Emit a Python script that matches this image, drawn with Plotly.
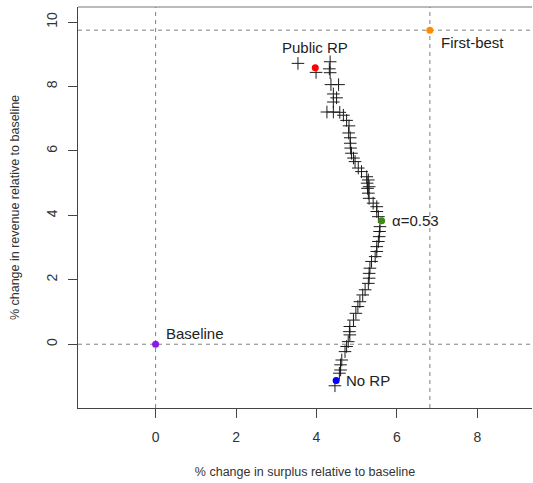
import plotly.graph_objects as go

# Frontier points (surplus %, revenue %)
surplus = [3.54, 4.34, 3.99, 4.32, 4.34, 4.36, 4.55, 4.42, 4.50, 4.42,
           4.26, 4.42, 4.58, 4.67, 4.75, 4.81, 4.80, 4.84, 4.84, 4.85,
           4.87, 4.92, 4.96, 5.04, 5.12, 5.25, 5.29, 5.26, 5.31, 5.27,
           5.29, 5.31, 5.41, 5.50, 5.50, 5.54, 5.58, 5.57, 5.56, 5.54,
           5.50, 5.50, 5.46, 5.37, 5.33, 5.31, 5.31, 5.29, 5.21, 5.15,
           5.08, 5.03, 4.98, 4.92, 4.83, 4.82, 4.83, 4.79, 4.75, 4.71,
           4.63, 4.60, 4.60, 4.57, 4.46]
revenue = [8.72, 8.77, 8.44, 8.55, 8.43, 8.06, 8.06, 7.77, 7.65, 7.52,
           7.21, 7.21, 7.20, 7.11, 6.95, 6.78, 6.56, 6.41, 6.24, 6.09,
           5.93, 5.78, 5.67, 5.47, 5.36, 5.20, 5.10, 5.00, 4.89, 4.84,
           4.69, 4.53, 4.38, 4.27, 4.12, 3.96, 3.65, 3.50, 3.34, 3.19,
           3.03, 2.88, 2.72, 2.57, 2.36, 2.20, 2.05, 1.89, 1.69, 1.53,
           1.32, 1.17, 0.96, 0.75, 0.55, 0.39, 0.29, 0.08, -0.07, -0.23,
           -0.49, -0.64, -0.80, -0.90, -1.29]

# Highlighted points
special_names = ["Baseline", "Public RP", "α=0.53", "No RP", "First-best"]
special_x = [0.0, 3.97, 5.62, 4.49, 6.82]
special_y = [0.0, 8.58, 3.83, -1.13, 9.75]
special_colors = ["#8B1AE8", "#FF0000", "#3C8C14", "#0000FF", "#FF8C00"]

x_ticks = [0, 2, 4, 6, 8]
y_ticks = [0, 2, 4, 6, 8, 10]

FONT = "Liberation Sans, Arial, sans-serif"

fig = go.Figure()

fig.add_trace(go.Scatter(
    x=surplus, y=revenue, mode="markers",
    marker=dict(symbol="cross-thin", size=9,
                line=dict(color="#1a1a1a", width=1)),
    showlegend=False, hoverinfo="skip"))

fig.add_trace(go.Scatter(
    x=special_x, y=special_y, mode="markers",
    marker=dict(color=special_colors, size=7),
    showlegend=False, hoverinfo="skip"))

# reference dashed lines
dash = dict(color="#808080", width=1, dash="4px,4px")
fig.add_shape(type="line", xref="x", yref="paper", x0=0, x1=0, y0=0, y1=1, line=dash, layer="below")
fig.add_shape(type="line", xref="paper", yref="y", x0=0, x1=1, y0=0, y1=0, line=dash, layer="below")
fig.add_shape(type="line", xref="x", yref="paper", x0=special_x[4], x1=special_x[4], y0=0, y1=1, line=dash, layer="below")
fig.add_shape(type="line", xref="paper", yref="y", x0=0, x1=1, y0=special_y[4], y1=special_y[4], line=dash, layer="below")
# top border of box
fig.add_shape(type="line", xref="paper", yref="paper", x0=0, x1=1, y0=1, y1=1,
              line=dict(color="#777777", width=1))

lab_font = dict(family=FONT, size=15, color="#222222")
fig.add_annotation(x=special_x[0], y=special_y[0], text=special_names[0], showarrow=False,
                   xanchor="left", yanchor="middle", xshift=8, yshift=11, font=lab_font)
fig.add_annotation(x=special_x[1], y=special_y[1], text=special_names[1], showarrow=False,
                   xanchor="center", yanchor="middle", xshift=0, yshift=20, font=lab_font)
fig.add_annotation(x=special_x[2], y=special_y[2], text=special_names[2], showarrow=False,
                   xanchor="left", yanchor="middle", xshift=8, font=lab_font)
fig.add_annotation(x=special_x[3], y=special_y[3], text=special_names[3], showarrow=False,
                   xanchor="left", yanchor="middle", xshift=8, font=lab_font)
fig.add_annotation(x=special_x[4], y=special_y[4], text=special_names[4], showarrow=False,
                   xanchor="left", yanchor="middle", xshift=9, yshift=-12, font=lab_font)

axis_common = dict(showgrid=False, zeroline=False, showline=True, linecolor="#444444",
                   linewidth=1, ticks="outside", ticklen=9, tickcolor="#444444",
                   tickfont=dict(family=FONT, size=14, color="#333333"))

fig.update_layout(
    width=533, height=483,
    margin=dict(l=78, r=1, t=7, b=75),
    plot_bgcolor="white", paper_bgcolor="white",
    xaxis=dict(range=[-1.93, 9.36], tickvals=x_ticks, ticklabelstandoff=7,
               title=dict(text="% change in surplus relative to baseline",
                          font=dict(family=FONT, size=12.5, color="#333333"), standoff=23),
               **axis_common),
    yaxis=dict(range=[-1.98, 10.47], tickvals=y_ticks, tickangle=-90, ticklabelstandoff=5,
               title=dict(text="% change in revenue relative to baseline",
                          font=dict(family=FONT, size=12.5, color="#333333"), standoff=22),
               **axis_common),
)

fig.write_html("out.html", config={"displayModeBar": False},
               post_script="document.body.style.margin='0px';")
